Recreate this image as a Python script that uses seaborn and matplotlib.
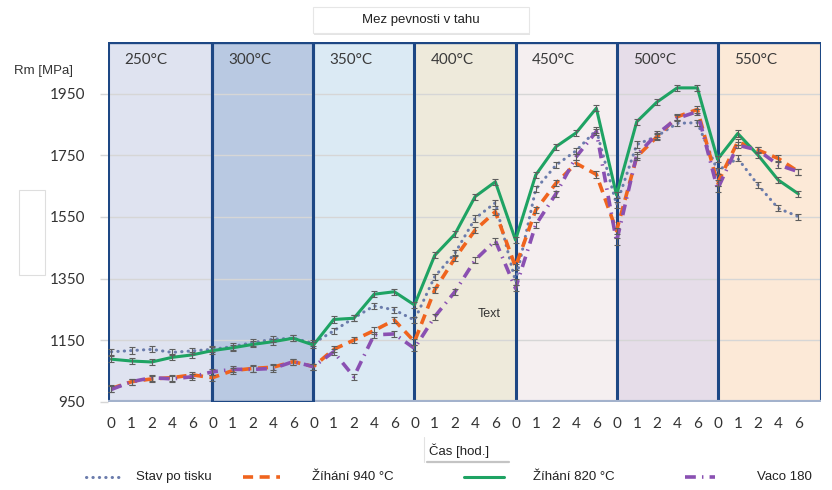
import numpy as np
import pandas as pd
import matplotlib
matplotlib.use("Agg")
import matplotlib.pyplot as plt
import matplotlib.transforms as mtransforms
from matplotlib.lines import Line2D
from matplotlib.patches import Rectangle
import seaborn as sns

# --- data -------------------------------------------------------------
TEMPS = ["250°C", "300°C", "350°C", "400°C", "450°C", "500°C", "550°C"]
HOURS = [0, 1, 2, 4, 6]

STAV_PO_TISKU = [1112, 1116, 1120, 1110, 1115,
                 1120, 1129, 1142, 1153, 1156,
                 1140, 1180, 1222, 1261, 1248,
                 1215, 1356, 1432, 1545, 1596,
                 1340, 1640, 1718, 1765, 1832,
                 1590, 1785, 1812, 1854, 1856,
                 1700, 1740, 1654, 1578, 1551]
ZIHANI_940 = [993, 1015, 1024, 1028, 1037,
              1028, 1051, 1058, 1062, 1080,
              1064, 1120, 1150, 1181, 1215,
              1145, 1313, 1416, 1507, 1567,
              1388, 1572, 1659, 1724, 1688,
              1505, 1745, 1810, 1875, 1899,
              1660, 1794, 1767, 1740, 1697]
ZIHANI_820 = [1088, 1082, 1079, 1094, 1102,
              1116, 1125, 1136, 1145, 1156,
              1134, 1217, 1221, 1299, 1307,
              1264, 1425, 1494, 1616, 1664,
              1475, 1686, 1778, 1823, 1903,
              1621, 1859, 1923, 1969, 1969,
              1737, 1821, 1751, 1670, 1625]
VACO_180 = [990, 1015, 1028, 1024, 1031,
            1047, 1055, 1055, 1058, 1080,
            1064, 1112, 1031, 1167, 1170,
            1123, 1226, 1307, 1410, 1473,
            1318, 1524, 1625, 1745, 1827,
            1470, 1751, 1819, 1870, 1892,
            1640, 1783, 1767, 1719, 1697]
ERR_MPA = 10

SERIES = ["Stav po tisku", "Žíhání 940 °C", "Žíhání 820 °C", "Vaco 180"]
VALUES = [STAV_PO_TISKU, ZIHANI_940, ZIHANI_820, VACO_180]

Y_TICKS = [950, 1150, 1350, 1550, 1750, 1950]

# --- styling ----------------------------------------------------------
COLORS = ["#6b7cac", "#f0641e", "#1ea363", "#8a50b2"]
WIDTHS = [2.2, 2.6, 2.2, 2.6]
STYLES = [(0, (0.1, 2.0)), (0, (2.8, 1.8)), "-", (0, (3.0, 1.7, 0.4, 1.7))]
CAPS = ["round", "butt", "butt", "butt"]
BAND_COLORS = ["#dfe3f0", "#b9c9e2", "#dbeaf4", "#eeeadb",
               "#f5eff0", "#e6dde9", "#fce9d7"]
NAVY = "#1d4784"
NARROW = ["Liberation Sans Narrow", "Liberation Sans", "DejaVu Sans"]

sns.set_theme(style="white")
plt.rcParams["font.family"] = ["Lato", "DejaVu Sans"]

W, H = 832, 490
fig = plt.figure(figsize=(W / 100, H / 100), dpi=100)
fig.patch.set_facecolor("white")


def fig_box(x0, y0, x1, y1):
    return [x0 / W, 1 - y1 / H, (x1 - x0) / W, (y1 - y0) / H]


ax = fig.add_axes(fig_box(108, 42, 821, 402))

n_pts = len(TEMPS) * len(HOURS)
pos = np.arange(n_pts)
rows = []
for name, vals in zip(SERIES, VALUES):
    for p, v in zip(pos, vals):
        rows.append({"pos": p, "Rm": v, "series": name})
df = pd.DataFrame(rows)

X0, X1 = -0.17, 35.12
Y0, Y1 = 949, 2118
ax.set_xlim(X0, X1)
ax.set_ylim(Y0, Y1)

# temperature bands
edges = [X0] + [len(HOURS) * i for i in range(1, len(TEMPS))] + [X1]
for i, temp in enumerate(TEMPS):
    ax.add_patch(Rectangle((edges[i], Y0), edges[i + 1] - edges[i], Y1 - Y0,
                           facecolor=BAND_COLORS[i], edgecolor="none", zorder=0))
    ax.text(edges[i] + 0.8, 0.95, temp,
            transform=mtransforms.blended_transform_factory(ax.transData, ax.transAxes),
            fontsize=11, color="#3a3a3a", ha="left", va="center", zorder=6)

# horizontal grid
for yv in Y_TICKS[1:]:
    ax.axhline(yv, color="#d6d6d6", lw=1.0, zorder=1)

# band borders
for e in edges:
    ax.axvline(e, color=NAVY, lw=2.2, zorder=2)
ax.axhline(Y1, color=NAVY, lw=2.4, zorder=2)
ax.axhline(Y0, color="#a3b2cc", lw=3.0, zorder=2)
ax.add_patch(Rectangle((edges[1], Y0), edges[2] - edges[1], Y1 - Y0,
                       facecolor="none", edgecolor=NAVY, lw=2.2, zorder=2))

# series
for name, col, lw, ls, cap in zip(SERIES, COLORS, WIDTHS, STYLES, CAPS):
    sub = df[df["series"] == name]
    sns.lineplot(data=sub, x="pos", y="Rm", ax=ax, color=col, linewidth=lw,
                 linestyle=ls, errorbar=None, legend=False, zorder=4)
    ax.lines[-1].set_dash_capstyle(cap)
    ax.errorbar(sub["pos"], sub["Rm"], yerr=ERR_MPA, fmt="none",
                ecolor="#5e5e5e", elinewidth=0.8, capsize=2.2, capthick=0.8,
                zorder=5)

for s in ax.spines.values():
    s.set_visible(False)

ax.set_xticks(pos)
ax.set_xticklabels([str(h) for _ in TEMPS for h in HOURS])
ax.set_yticks(Y_TICKS)
ax.set_yticklabels([str(v) for v in Y_TICKS])
ax.tick_params(axis="x", length=0, pad=11, labelsize=11, labelcolor="#333333")
ax.tick_params(axis="y", length=5.8, width=1, color="#d6d6d6", pad=10.5,
               labelsize=11, labelcolor="#333333", direction="out", left=True)
ax.set_xlabel("")
ax.set_ylabel("")

ax.text(18.7, 1235, "Text", fontsize=9, color="#333333",
        family=["Liberation Sans", "DejaVu Sans"], ha="center", va="center", zorder=6)

# title box
fig.add_artist(Rectangle((314 / W, 1 - 35 / H), 216 / W, 26 / H,
                         transform=fig.transFigure, facecolor="#e4e4e4",
                         edgecolor="none", zorder=1))
fig.add_artist(Rectangle((313 / W, 1 - 33 / H), 216 / W, 26 / H,
                         transform=fig.transFigure, facecolor="white",
                         edgecolor="#e6e6e6", lw=0.8, zorder=2))
fig.text(421 / W, 1 - 20 / H, "Mez pevnosti v tahu", fontsize=9.5,
         family=NARROW, color="#222222", ha="center", va="center", zorder=3)

# axis titles
fig.text(14 / W, 1 - 71 / H, "Rm [MPa]", fontsize=9.5, family=NARROW,
         color="#333333", ha="left", va="center")
fig.add_artist(Rectangle((19 / W, 1 - 275 / H), 26 / W, 85 / H,
                         transform=fig.transFigure, facecolor="white",
                         edgecolor="#dedede", lw=0.8))

fig.add_artist(Line2D([424 / W, 424 / W], [1 - 437 / H, 1 - 462 / H],
                      transform=fig.transFigure, color="#e2e2e2", lw=0.8))
fig.add_artist(Line2D([427 / W, 509 / W], [1 - 462 / H, 1 - 462 / H],
                      transform=fig.transFigure, color="#c4c4c4", lw=1.6))
fig.text(459 / W, 1 - 451 / H, "Čas [hod.]", fontsize=9.5, family=NARROW,
         color="#222222", ha="center", va="center")

# legend row
LEG_Y = 1 - 477 / H
handle_x = [(86, 120), (243, 280), (464, 504), (685, 715)]
label_x = [136, 312, 533, 757]
for name, col, lw, ls, cap, (hx0, hx1), lx in zip(SERIES, COLORS, WIDTHS, STYLES,
                                                   CAPS, handle_x, label_x):
    ln = Line2D([hx0 / W, hx1 / W], [LEG_Y, LEG_Y], transform=fig.transFigure,
                color=col, lw=lw, linestyle=ls)
    ln.set_dash_capstyle(cap)
    fig.add_artist(ln)
    fig.text(lx / W, LEG_Y, name, fontsize=9.5, family=NARROW, color="#222222",
             ha="left", va="center")

fig.savefig("out.png", dpi=100, facecolor="white")
